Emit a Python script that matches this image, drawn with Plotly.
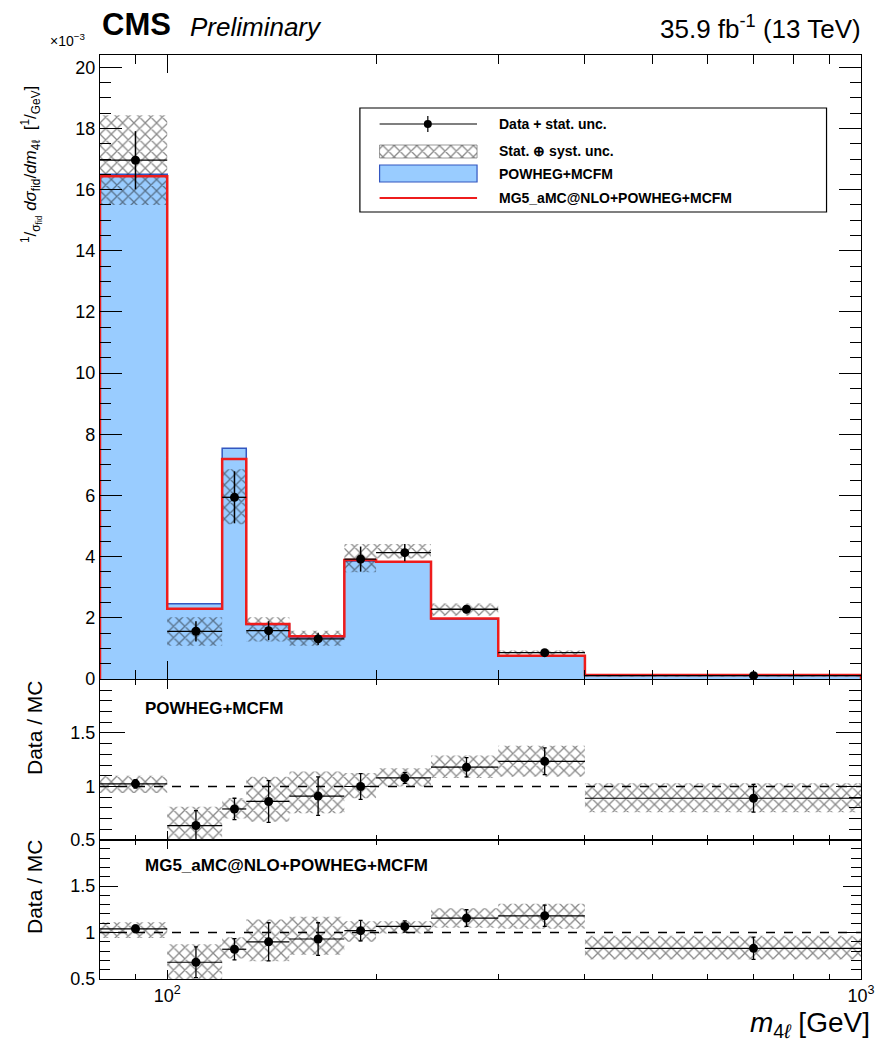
import numpy as np
import plotly.graph_objects as go

# ---------------- data ----------------
bin_edges = [80, 100, 120, 130, 150, 180, 200, 240, 300, 400, 1000]

# main panel, units of 1e-3 / GeV
data_val = [16.96, 1.56, 5.94, 1.58, 1.31, 3.92, 4.13, 2.28, 0.86, 0.11]
data_stat = [0.95, 0.33, 0.85, 0.31, 0.20, 0.41, 0.28, 0.10, 0.05, 0.02]
tot_lo = [15.50, 1.09, 5.06, 1.23, 1.09, 3.49, 3.94, 2.07, 0.78, 0.08]
tot_hi = [18.43, 2.02, 6.86, 2.02, 1.58, 4.41, 4.41, 2.47, 0.93, 0.14]
powheg_val = [16.50, 2.46, 7.54, 1.78, 1.37, 3.86, 3.83, 1.95, 0.74, 0.12]
mg5_val = [16.44, 2.30, 7.19, 1.80, 1.40, 3.89, 3.83, 1.98, 0.76, 0.13]

# ratio panel 1: Data / POWHEG+MCFM
r1_val = [1.025, 0.635, 0.79, 0.86, 0.91, 1.00, 1.08, 1.18, 1.235, 0.89]
r1_stat = [0.04, 0.14, 0.10, 0.195, 0.18, 0.12, 0.05, 0.09, 0.125, 0.13]
r1_lo = [0.94, 0.46, 0.70, 0.67, 0.75, 0.89, 1.00, 1.08, 1.09, 0.76]
r1_hi = [1.10, 0.81, 0.89, 1.09, 1.14, 1.125, 1.17, 1.29, 1.38, 1.03]

# ratio panel 2: Data / MG5_aMC@NLO+POWHEG+MCFM
r2_val = [1.04, 0.68, 0.82, 0.90, 0.93, 1.02, 1.065, 1.155, 1.18, 0.83]
r2_stat = [0.04, 0.165, 0.115, 0.205, 0.175, 0.11, 0.06, 0.09, 0.115, 0.12]
r2_lo = [0.94, 0.46, 0.72, 0.69, 0.76, 0.90, 0.99, 1.05, 1.04, 0.71]
r2_hi = [1.11, 0.875, 0.95, 1.14, 1.17, 1.12, 1.12, 1.26, 1.31, 0.965]

x_tickvals = [100, 1000]
x_ticktext = ["10<sup>2</sup>", "10<sup>3</sup>"]
x_minor = [90, 200, 300, 400, 500, 600, 700, 800, 900]
main_yticks = list(range(0, 21, 2))
ratio_yticks = [0.5, 1, 1.5]
ratio_yticktext = ["0.5", "1", "1.5"]

# ---------------- helpers ----------------
FONT = "Liberation Sans, Arial, Helvetica, sans-serif"
W, H = 887, 1041
L, R, T, B = 100, 14, 55, 62
PW, PH = W - L - R, H - T - B


def px_x(px):
    return (px - L) / PW


def px_y(py):
    return (H - B - py) / PH


def step_xy(edges, vals):
    xs, ys = [edges[0]], [0]
    for i, v in enumerate(vals):
        xs += [edges[i], edges[i + 1]]
        ys += [v, v]
    xs.append(edges[-1])
    ys.append(0)
    return xs, ys


def boxes(edges, lo, hi):
    xs, ys = [], []
    for i in range(len(lo)):
        a, b = edges[i], edges[i + 1]
        xs += [a, b, b, a, a, None]
        ys += [lo[i], lo[i], hi[i], hi[i], lo[i], None]
    return xs, ys


centers = [(bin_edges[i] + bin_edges[i + 1]) / 2 for i in range(len(bin_edges) - 1)]
ex_minus = [c - bin_edges[i] for i, c in enumerate(centers)]
ex_plus = [bin_edges[i + 1] - c for i, c in enumerate(centers)]

HATCH = dict(shape="x", fgcolor="#151515", bgcolor="rgba(0,0,0,0)", size=8, solidity=0.3)
BLUE_FILL = "#99ccff"
BLUE_LINE = "#3356c0"
RED = "#ee1c1c"

fig = go.Figure()

# ---------------- main panel ----------------
sx, sy = step_xy(bin_edges, powheg_val)
fig.add_trace(go.Scatter(x=sx, y=sy, mode="lines", fill="tozeroy", fillcolor=BLUE_FILL,
                         line=dict(color=BLUE_LINE, width=1.5), xaxis="x3", yaxis="y3",
                         showlegend=False, hoverinfo="skip"))
bx, by = boxes(bin_edges, tot_lo, tot_hi)
fig.add_trace(go.Scatter(x=bx, y=by, mode="lines", fill="toself", fillcolor="rgba(0,0,0,0)",
                         fillpattern=HATCH, line=dict(width=0, color="rgba(0,0,0,0)"),
                         xaxis="x3", yaxis="y3", showlegend=False, hoverinfo="skip"))
mx, my = step_xy(bin_edges, mg5_val)
fig.add_trace(go.Scatter(x=mx, y=my, mode="lines", line=dict(color=RED, width=2.5),
                         xaxis="x3", yaxis="y3", showlegend=False, hoverinfo="skip"))
fig.add_trace(go.Scatter(x=centers, y=data_val, mode="markers",
                         marker=dict(color="black", size=9),
                         error_y=dict(type="data", array=data_stat, color="black", thickness=1.5, width=0),
                         error_x=dict(type="data", array=ex_plus, arrayminus=ex_minus, color="black",
                                      thickness=1.3, width=0),
                         xaxis="x3", yaxis="y3", showlegend=False))

# ---------------- ratio panels ----------------
for (vals, stat, lo, hi, xa, ya) in [(r1_val, r1_stat, r1_lo, r1_hi, "x2", "y2"),
                                     (r2_val, r2_stat, r2_lo, r2_hi, "x", "y")]:
    bx, by = boxes(bin_edges, lo, hi)
    fig.add_trace(go.Scatter(x=bx, y=by, mode="lines", fill="toself", fillcolor="rgba(0,0,0,0)",
                             fillpattern=HATCH, line=dict(width=0, color="rgba(0,0,0,0)"),
                             xaxis=xa, yaxis=ya, showlegend=False, hoverinfo="skip"))
    fig.add_trace(go.Scatter(x=centers, y=vals, mode="markers",
                             marker=dict(color="black", size=9),
                             error_y=dict(type="data", array=stat, color="black", thickness=1.3, width=2),
                             error_x=dict(type="data", array=ex_plus, arrayminus=ex_minus, color="black",
                                          thickness=1.2, width=0),
                             xaxis=xa, yaxis=ya, showlegend=False))
    fig.add_shape(type="line", xref=xa + " domain", yref=ya, x0=0, x1=1, y0=1, y1=1,
                  line=dict(color="black", width=1.6, dash="dash"))

# ---------------- legend (drawn in a 0-1 overlay frame of the main panel) ----------------
def lx(px):
    return (px - 100) / 773


def ly(py):
    return (679 - py) / 624


fig.add_shape(type="rect", xref="x4", yref="y4", x0=lx(364), x1=lx(838), y0=ly(212), y1=ly(108),
              line=dict(color="black", width=1.2), fillcolor="white", layer="below")
# data entry
fig.add_shape(type="line", xref="x4", yref="y4", x0=lx(384), x1=lx(483), y0=ly(124), y1=ly(124),
              line=dict(color="black", width=1.2))
fig.add_shape(type="line", xref="x4", yref="y4", x0=lx(433), x1=lx(433), y0=ly(116), y1=ly(132),
              line=dict(color="black", width=1.2))
fig.add_trace(go.Scatter(x=[lx(433)], y=[ly(124)], mode="markers", marker=dict(color="black", size=8),
                         xaxis="x4", yaxis="y4", showlegend=False, hoverinfo="skip"))
# hatch entry
fig.add_trace(go.Scatter(x=[lx(384), lx(483), lx(483), lx(384), lx(384)],
                         y=[ly(158), ly(158), ly(145), ly(145), ly(158)],
                         mode="lines", fill="toself", fillcolor="rgba(0,0,0,0)", fillpattern=HATCH,
                         line=dict(width=0.6, color="#555"), xaxis="x4", yaxis="y4",
                         showlegend=False, hoverinfo="skip"))
# powheg entry
fig.add_shape(type="rect", xref="x4", yref="y4", x0=lx(384), x1=lx(483), y0=ly(182), y1=ly(165),
              line=dict(color=BLUE_LINE, width=1.2), fillcolor=BLUE_FILL)
# mg5 entry
fig.add_shape(type="line", xref="x4", yref="y4", x0=lx(384), x1=lx(483), y0=ly(198), y1=ly(198),
              line=dict(color=RED, width=2))

leg_text = ["Data + stat. unc.", "Stat. ⊕ syst. unc.", "POWHEG+MCFM", "MG5_aMC@NLO+POWHEG+MCFM"]
leg_y = [124, 151, 174, 198]
annotations = []
for t, yy in zip(leg_text, leg_y):
    annotations.append(dict(xref="x4", yref="y4", x=lx(503), y=ly(yy), text="<b>" + t + "</b>",
                            showarrow=False, xanchor="left", yanchor="middle",
                            font=dict(family=FONT, size=14, color="black")))

# ---------------- texts ----------------
def ann(px, py, text, size, xanchor="center", angle=0, yanchor="middle"):
    annotations.append(dict(xref="paper", yref="paper", x=px_x(px), y=px_y(py), text=text,
                            showarrow=False, xanchor=xanchor, yanchor=yanchor, textangle=angle,
                            font=dict(family=FONT, size=size, color="black")))


ann(100, 25, "<b>CMS</b>", 31, xanchor="left")
ann(189, 27, "<i>Preliminary</i>", 26, xanchor="left")
ann(875, 28, "35.9 fb<sup>-1</sup> (13 TeV)", 26, xanchor="right")
ann(67, 40, "×10<sup>−3</sup>", 14)
ann(30, 165, "<sup>1</sup>/<sub>σ<sub>fid</sub></sub> <i>dσ</i><sub>fid</sub>/<i>dm</i><sub>4ℓ</sub>  [<sup>1</sup>/<sub>GeV</sub>]",
    17, angle=-90)
ann(33, 728, "Data / MC", 21, angle=-90)
ann(33, 887, "Data / MC", 21, angle=-90)
ann(144, 708, "<b>POWHEG+MCFM</b>", 17, xanchor="left")
ann(144, 865, "<b>MG5_aMC@NLO+POWHEG+MCFM</b>", 17, xanchor="left")
ann(884, 1024, "<i>m</i><sub>4<i>ℓ</i></sub> [GeV]", 28, xanchor="right")

# ---------------- axes ----------------
xrange = [np.log10(bin_edges[0]), np.log10(bin_edges[-1])]
common_x = dict(type="log", range=xrange, showgrid=False, zeroline=False, showline=True,
                linecolor="black", linewidth=1.4, mirror="allticks", ticks="inside",
                tickcolor="black", tickwidth=1.2, tickvals=x_tickvals, ticktext=x_ticktext,
                tickfont=dict(family=FONT, size=18, color="black"))


def xax(ticklen, minorlen, showlabels, anchor, extra=None):
    d = dict(common_x)
    d.update(ticklen=ticklen, showticklabels=showlabels, anchor=anchor,
             minor=dict(tickvals=x_minor, ticks="inside", ticklen=minorlen, tickcolor="black",
                        tickwidth=1.1))
    if extra:
        d.update(extra)
    return d


def yax(domain, rng, tickvals, ticktext, ticklen, mdtick, mlen, anchor):
    return dict(domain=domain, range=rng, showgrid=False, zeroline=False, showline=True,
                linecolor="black", linewidth=1.4, mirror="allticks", ticks="inside",
                tickcolor="black", tickwidth=1.2, ticklen=ticklen, tickvals=tickvals,
                ticktext=ticktext, tickfont=dict(family=FONT, size=18, color="black"),
                anchor=anchor,
                minor=dict(tickmode="linear", tick0=0, dtick=mdtick, ticks="inside", ticklen=mlen,
                           tickcolor="black", tickwidth=1.1))


d_r2 = [0, px_y(840)]
d_r1 = [px_y(840), px_y(680)]
d_main = [px_y(679), 1]

fig.update_layout(
    width=W, height=H, margin=dict(l=L, r=R, t=T, b=B), autosize=False,
    paper_bgcolor="white", plot_bgcolor="white", showlegend=False,
    xaxis=xax(9, 5, True, "y"),
    xaxis2=xax(9, 5, False, "y2", dict(matches="x")),
    xaxis3=xax(18, 9, False, "y3", dict(matches="x")),
    yaxis=yax(d_r2, [0.5, 1.995], ratio_yticks, ratio_yticktext, 18, 0.1, 10, "x"),
    yaxis2=yax(d_r1, [0.5, 1.995], ratio_yticks, ratio_yticktext, 25, 0.1, 12, "x2"),
    yaxis3=yax(d_main, [0, 20.4], main_yticks, [str(v) for v in main_yticks], 22, 0.5, 11, "x3"),
    xaxis4=dict(overlaying="x3", range=[0, 1], visible=False, anchor="y4"),
    yaxis4=dict(overlaying="y3", range=[0, 1], visible=False, anchor="x4"),
    annotations=annotations,
)

fig.write_html("out.html")
